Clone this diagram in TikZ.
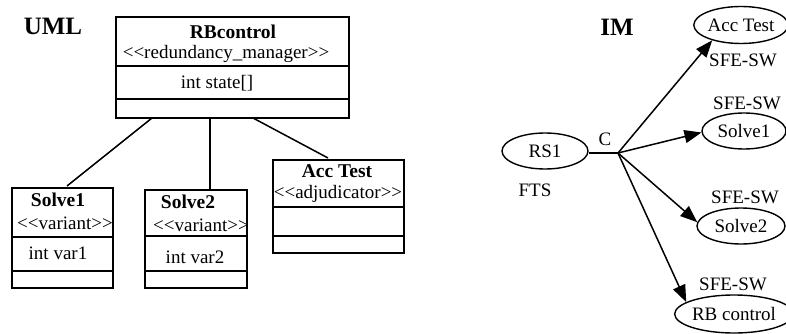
\documentclass[tikz,border=0pt]{standalone}
\usepackage{fontspec}
\setmainfont{Liberation Serif}[Ligatures=TeXOff]
\usetikzlibrary{arrows.meta,shapes.geometric}
\tikzset{
  txt/.style={inner sep=0pt, font=\fontsize{19}{21}\selectfont},
  btxt/.style={inner sep=0pt, font=\fontsize{19.5}{21}\selectfont\bfseries},
  ttl/.style={inner sep=0pt, font=\fontsize{25}{27}\selectfont\bfseries},
  classbox/.style={draw, line width=1.5pt, rectangle, inner sep=0pt},
  el/.style={draw, line width=1.4pt, ellipse, inner sep=0pt, font=\fontsize{19}{21}\selectfont},
  conn/.style={line width=1.5pt},
  arr/.style={line width=1.5pt, -{Triangle[length=17pt,width=13pt]}}
}
\begin{document}
\begin{tikzpicture}[x=1pt,y=-1pt]
\useasboundingbox (0,0) rectangle (786,334);

% ---------- UML ----------
\node[ttl] (uml) at (53,26) {UML};

% RBcontrol
\node[classbox, minimum width=233pt, minimum height=101pt] (rb) at (232.5,67.5) {};
\draw[line width=1.5pt] (116,66) -- (349,66) (116,99) -- (349,99);
\node[btxt] (rbn) at (233,32) {RBcontrol};
\node[txt] (rbs) at (226,54) {<<redundancy\_manager>>};
\node[txt] (rba) at (217,83) {int state[]};

% Solve1
\node[classbox, minimum width=101pt, minimum height=100pt] (s1) at (62.5,238) {};
\draw[line width=1.5pt] (12,237) -- (113,237) (12,271) -- (113,271);
\node[btxt] (s1n) at (58,200) {Solve1};
\node[txt] (s1s) at (65,223) {<<variant>>};
\node[txt] (s1a) at (58,253) {int var1};

% Solve2
\node[classbox, minimum width=102pt, minimum height=98pt] (s2) at (196,239) {};
\draw[line width=1.5pt] (145,236) -- (247,236) (145,271) -- (247,271);
\node[btxt] (s2n) at (188,202) {Solve2};
\node[txt] (s2s) at (201,225) {<<variant>>};
\node[txt] (s2a) at (195,257) {int var2};

% Acc Test
\node[classbox, minimum width=131pt, minimum height=93pt] (at) at (338.5,206.5) {};
\draw[line width=1.5pt] (273,207) -- (404,207) (273,236) -- (404,236);
\node[btxt] (atn) at (337,171) {Acc Test};
\node[txt] (ats) at (338,194) {<<adjudicator>>};

% UML connectors
\coordinate (rb1) at (152,118);
\coordinate (rb2) at (210,118);
\coordinate (rb3) at (253,118);
\coordinate (s1t) at (67,186);
\coordinate (s2t) at (210,190);
\coordinate (att) at (328,158);
\draw[conn] (rb1) -- (s1t);
\draw[conn] (rb2) -- (s2t);
\draw[conn] (rb3) -- (att);

% ---------- IM ----------
\node[ttl] (im) at (617,27) {IM};

\node[el, minimum width=86pt, minimum height=36pt] (rs1) at (545,151) {RS1};
\node[el, minimum width=78pt, minimum height=37pt] (acc) at (741,25) {Acc Test};
\node[el, minimum width=84pt, minimum height=36pt] (sol1) at (744,131) {Solve1};
\node[el, minimum width=88pt, minimum height=36pt] (sol2) at (741,226) {Solve2};
\node[el, minimum width=104pt, minimum height=38pt] (rbc) at (734,314) {RB control};

\node[txt] (c) at (605,139) {C};
\node[txt] (fts) at (535,190) {FTS};
\node[txt] (l1) at (743,60) {SFE-SW};
\node[txt] (l2) at (747,103) {SFE-SW};
\node[txt] (l3) at (745,197) {SFE-SW};
\node[txt] (l4) at (733,284) {SFE-SW};

\coordinate (j) at (618,153);
\draw[conn] (rs1.east |- j) -- (j);
\draw[arr] (j) -- (acc.208);
\draw[arr] (j) -- (sol1.182);
\draw[arr] (j) -- (sol2.175);
\draw[arr] (j) -- (rbc.166);
\end{tikzpicture}
\end{document}
